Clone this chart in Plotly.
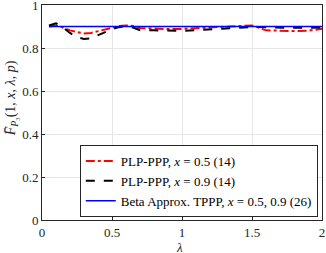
import plotly.graph_objects as go

lam = [0.05,0.1,0.15,0.2,0.25,0.3,0.35,0.4,0.45,0.5,0.55,0.6,0.65,0.7,0.8,0.9,1.0,1.1,1.2,1.3,1.4,1.5,1.6,1.7,1.8,1.9,2.0]
plp_x05 = [0.900,0.905,0.895,0.882,0.874,0.868,0.870,0.878,0.888,0.897,0.902,0.905,0.902,0.893,0.889,0.888,0.889,0.892,0.895,0.898,0.902,0.905,0.882,0.879,0.879,0.880,0.890]
plp_x09 = [0.905,0.915,0.895,0.870,0.850,0.842,0.845,0.860,0.875,0.888,0.897,0.902,0.895,0.883,0.882,0.880,0.880,0.883,0.887,0.890,0.894,0.898,0.896,0.894,0.894,0.894,0.895]
lam_beta = [0.05, 2.0]
beta_tppp = [0.9, 0.9]

xticks = [0, 0.5, 1, 1.5, 2]
yticks = [0, 0.2, 0.4, 0.6, 0.8, 1]

font_family = "Liberation Serif, Times New Roman, serif"

fig = go.Figure()
fig.add_trace(go.Scatter(x=lam, y=plp_x05, mode="lines",
                         line=dict(color="#ff0000", width=2, dash="dashdot"),
                         name="PLP-PPP, <i>x</i> = 0.5 (14)"))
fig.add_trace(go.Scatter(x=lam, y=plp_x09, mode="lines",
                         line=dict(color="#000000", width=2, dash="dash"),
                         name="PLP-PPP, <i>x</i> = 0.9 (14)"))
fig.add_trace(go.Scatter(x=lam_beta, y=beta_tppp, mode="lines",
                         line=dict(color="#0000ff", width=1.5),
                         name="Beta Approx. TPPP, <i>x</i> = 0.5, 0.9 (26)"))

axis_common = dict(showgrid=True, gridcolor="#e6e6e6", gridwidth=1,
                   showline=True, linecolor="#262626", linewidth=1, mirror=True,
                   ticks="inside", ticklen=3, tickcolor="#262626", zeroline=False,
                   automargin=False, ticklabeloverflow="allow",
                   tickfont=dict(family=font_family, size=13, color="#262626"))

fig.update_layout(
    width=326, height=253,
    margin=dict(l=42, r=4, t=5, b=33),
    paper_bgcolor="white", plot_bgcolor="white",
    font=dict(family=font_family, size=13, color="#262626"),
    xaxis=dict(range=[0, 2], tickvals=xticks, ticktext=["0", "0.5", "1", "1.5", "2"], **axis_common),
    yaxis=dict(range=[0, 1], tickvals=yticks, ticktext=["0", "0.2", "0.4", "0.6", "0.8", "1"], **axis_common),
    legend=dict(x=0.985, y=0.014, xanchor="right", yanchor="bottom",
                bgcolor="white", bordercolor="#262626", borderwidth=1,
                font=dict(family=font_family, size=13, color="#000000"),
                tracegroupgap=0, itemwidth=30),
    showlegend=True,
    annotations=[
        dict(text="<i>λ</i>", xref="paper", yref="paper", x=0.49, y=-0.128,
             xanchor="center", yanchor="middle", showarrow=False,
             font=dict(family=font_family, size=13, color="#262626")),
        dict(text="<i>F̄</i><sub><i>P</i>₃</sub>(1, <i>x</i>, <i>λ</i>, <i>p</i>)",
             xref="paper", yref="paper", x=-0.11, y=0.567, textangle=-90,
             xanchor="center", yanchor="middle", showarrow=False,
             font=dict(family=font_family, size=14, color="#262626")),
    ],
)

fig.write_html("out.html", config={"displayModeBar": False},
               post_script="document.body.style.margin='0';")
